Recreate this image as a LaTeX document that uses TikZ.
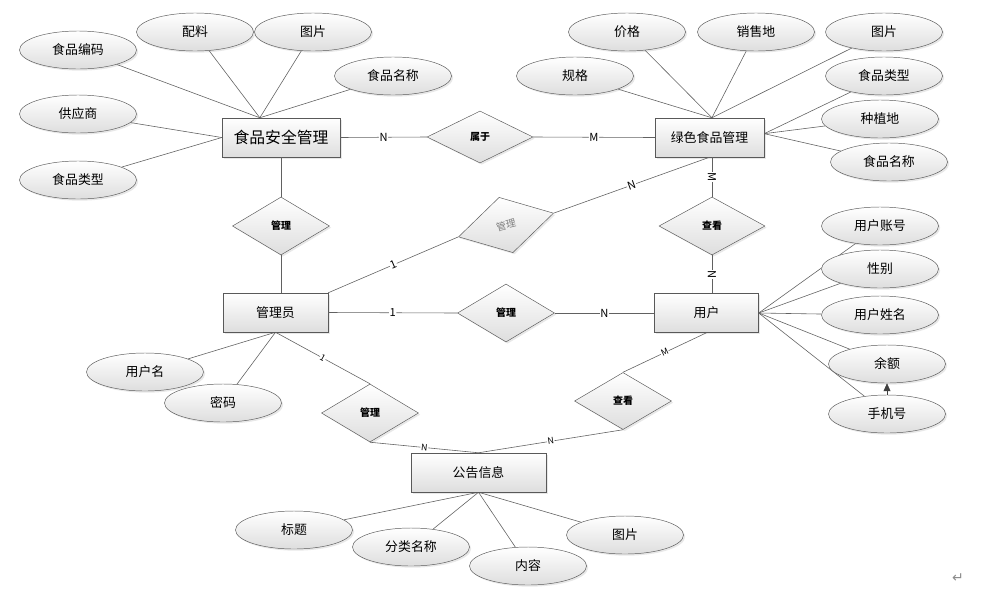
\documentclass[tikz,border=0pt]{standalone}
\usepackage{fontspec}
\newfontfamily\cjk{Noto Sans CJK SC}
\newfontfamily\symfont{DejaVu Sans}
\usepackage{tikz}
\usetikzlibrary{shapes.geometric, arrows.meta, shadows, backgrounds}

\begin{document}
\begin{tikzpicture}  [
        x = 0.3mm, y = -0.3mm,
        font = \cjk,
        shade/.style = {top color=white, bottom color=black!13,
                        drop shadow={opacity=0.18, shadow xshift=0.5mm, shadow yshift=-0.5mm}},
        entity/.style = {rectangle, draw=black!65, shade, minimum height=11.7mm, inner sep=0,
                         font=\cjk\fontsize{11}{12}\selectfont},
        attr/.style = {ellipse, draw=black!65, shade, minimum width=35.1mm, minimum height=11.4mm,
                       inner sep=0, font=\cjk\fontsize{11}{12}\selectfont},
        rel/.style = {diamond, draw=black!65, shade, inner sep=0, minimum width=29.1mm, minimum height=17.4mm,
                      font=\cjk\bfseries\fontsize{8.5}{9}\selectfont},
        mult/.style = {fill=white, inner sep=0.5pt, sloped, font=\cjk\fontsize{9.5}{10}\selectfont},
        tiny mult/.style = {mult, font=\cjk\fontsize{7.5}{8}\selectfont},
        link/.style = {draw=black!62, line width=0.5pt}
    ]
    \useasboundingbox (0,0) rectangle (989,589);

    % entities
    \node[entity, minimum width=35.4mm, font=\cjk\fontsize{13.5}{14}\selectfont] (fsm) at (281,137.5) {食品安全管理};
    \node[entity, minimum width=32.7mm] (gfm)    at (709.5,137.5) {绿色食品管理};
    \node[entity, minimum width=31.5mm] (admin)  at (275.5,312.5) {管理员};
    \node[entity, minimum width=31.2mm] (user)   at (706.5,313)   {用户};
    \node[entity, minimum width=40.5mm] (notice) at (478.5,472.5) {公告信息};

    % relations
    \node[rel, minimum width=31.8mm, minimum height=15.6mm] (belong) at (480,137) {属于};
    \node[rel] (mgrA) at (281,226) {管理};
    \node[rel, rotate=14, minimum width=29.4mm, minimum height=17.1mm,
          text=black!50, font=\cjk\fontsize{8.5}{9}\selectfont] (mgrB) at (506,225) {管理};
    \node[rel] (mgrC) at (506,313) {管理};
    \node[rel, minimum width=31.8mm] (viewA) at (712,226) {查看};
    \node[rel] (mgrD) at (370,413) {管理};
    \node[rel, minimum height=17.1mm] (viewB) at (623,401) {查看};

    % attributes of 食品安全管理
    \node[attr] (fsCode) at (78,50)   {食品编码};
    \node[attr] (fsMix)  at (195,32)  {配料};
    \node[attr] (fsPic)  at (313,32)  {图片};
    \node[attr] (fsName) at (393,76)  {食品名称};
    \node[attr] (fsSupp) at (78,114)  {供应商};
    \node[attr] (fsType) at (78,180)  {食品类型};

    % attributes of 绿色食品管理
    \node[attr] (gfSpec)  at (575,76)  {规格};
    \node[attr] (gfPrice) at (627,32)  {价格};
    \node[attr] (gfSale)  at (756,32)  {销售地};
    \node[attr] (gfPic)   at (884,32)  {图片};
    \node[attr] (gfType)  at (884,76)  {食品类型};
    \node[attr] (gfFarm)  at (880,119) {种植地};
    \node[attr] (gfName)  at (889,162) {食品名称};

    % attributes of 用户
    \node[attr] (usAcct)  at (880,226) {用户账号};
    \node[attr] (usSex)   at (880,269) {性别};
    \node[attr] (usName)  at (880,315) {用户姓名};
    \node[attr] (usBal)   at (887,364) {余额};
    \node[attr] (usPhone) at (887,414) {手机号};

    % attributes of 管理员 and 公告信息
    \node[attr] (adName)  at (145,372) {用户名};
    \node[attr] (adPwd)   at (223,403) {密码};
    \node[attr] (ntTitle) at (294,530) {标题};
    \node[attr] (ntCat)   at (411,547) {分类名称};
    \node[attr] (ntBody)  at (528,566) {内容};
    \node[attr] (ntPic)   at (625,535) {图片};

    \node[text=black!45, font=\symfont\fontsize{12}{12}\selectfont] (ret) at (958,578) {↵};

    \begin{scope}[on background layer]
    % attribute links
    \foreach \a in {fsCode, fsMix, fsPic, fsName}
        \draw[link] (\a) -- (fsm.137);
    \foreach \a in {fsSupp, fsType}
        \draw[link] (\a) -- (fsm.west);
    \foreach \a in {gfSpec, gfPrice, gfSale, gfPic}
        \draw[link] (\a) -- (gfm.83);
    \foreach \a in {gfType, gfFarm, gfName}
        \draw[link] (\a) -- (gfm.4);
    \foreach \a in {usAcct, usSex, usName, usBal, usPhone}
        \draw[link] (\a) -- (user.east);
    \foreach \a in {adName, adPwd}
        \draw[link] (\a) -- (admin.south);
    \foreach \a in {ntTitle, ntCat, ntBody, ntPic}
        \draw[link] (\a) -- (notice.south);
    \end{scope}
    \draw[link, black!75, -{Triangle[length=2.4mm, width=2.1mm]}] (usPhone) -- (usBal);

    % relation links
    \draw[link] (fsm.east) -- node[mult] {N} (belong.west);
    \draw[link] (belong.east) -- node[mult] {M} (gfm.west);
    \draw[link] (fsm.south) -- (mgrA.north);
    \draw[link] (mgrA.south) -- (mgrA.south |- admin.north);
    \draw[link] (admin.north east) -- node[mult] {1} (mgrB.west);
    \draw[link] (mgrB.east) -- node[mult] {N} (gfm.south);
    \draw[link] (viewA.north |- gfm.south) -- node[mult] {M} (viewA.north);
    \draw[link] (viewA.south) -- node[mult] {N} (viewA.south |- user.north);
    \draw[link] (admin.east) -- node[mult] {1} (mgrC.west);
    \draw[link] (mgrC.east) -- node[mult] {N} (user.west);
    \draw[link] (admin.south) -- node[tiny mult] {1} (mgrD.north);
    \draw[link] (mgrD.south) -- node[tiny mult] {N} (notice.north);
    \draw[link] (user.south) -- node[tiny mult] {M} (viewB.north);
    \draw[link] (viewB.south) -- node[tiny mult] {N} (notice.north);

\end{tikzpicture}
\end{document}
